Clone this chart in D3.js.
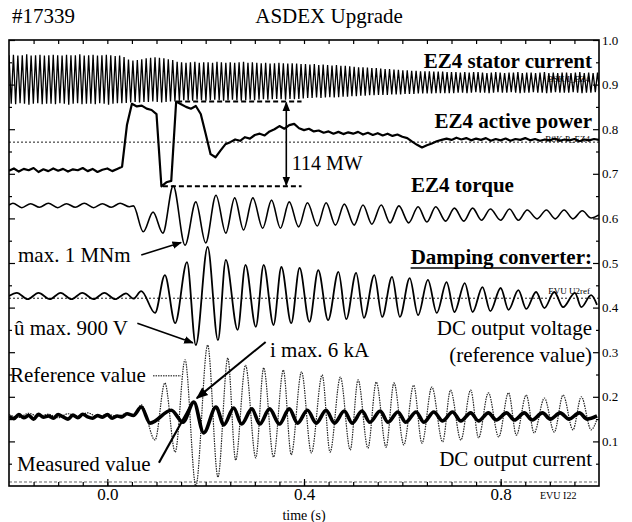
<!DOCTYPE html>
<html><head><meta charset="utf-8">
<script src="https://cdn.jsdelivr.net/npm/d3@7"></script>
<style>
body{margin:0;background:#fff}
svg{display:block}
svg text{font-family:"Liberation Serif","Tinos","Times New Roman",serif;fill:#000}
</style></head><body>
<svg id="chart" width="632" height="522"></svg>
<script>
// ---- shot / axis metadata ----
const shotLabel = "#17339";
const machineLabel = "ASDEX Upgrade";
const timeDomain = [-0.2, 1.0];
const timeTickLabels = [0.0, 0.4, 0.8];
const levelTicks = [0.1, 0.2, 0.3, 0.4, 0.5, 0.6, 0.7, 0.8, 0.9, 1.0];

// ---- EZ4 stator current: per-cycle upper / lower extremes (sampled every statorPeriod s) ----
const statorStart = -0.2;
const statorPeriod = 0.009;
const statorUpper = [
  0.966,0.967,0.965,0.966,0.968,0.965,0.966,0.967,0.965,0.966,0.967,0.966,0.965,0.967,0.966,0.966,0.968,0.965,0.966,0.967,0.965,0.966,0.967,0.966,0.964,0.965,0.962,
  0.956,0.954,0.955,0.957,
  0.959,0.960,0.961,0.960,0.959,0.957,0.955,
  0.951,0.950,0.949,0.950,0.951,0.949,0.950,0.950,0.949,0.951,0.950,0.949,0.950,0.949,0.950,0.951,0.949,0.950,
  0.949,0.948,0.949,0.947,0.948,0.949,0.948,0.947,0.948,0.947,0.946,
  0.946,0.945,0.946,0.944,0.945,0.944,0.943,0.944,0.942,0.942,
  0.941,0.940,0.939,0.939,0.938,0.937,0.937,0.936,0.935,0.935,0.934,0.933,
  0.932,0.932,0.931,0.931,0.930,0.930,0.930,0.929,0.929,0.929,0.928,0.928,
  0.928,0.927,0.928,0.927,0.928,0.928,0.927,0.926,0.927,0.928,0.927,0.926,0.927,0.927,0.928,0.926,0.927,0.927,0.926,0.927,0.928,0.926,0.927,0.926,0.927,0.927,0.926,0.927,0.928,0.926,0.927,0.926,0.927
];
const statorLower = [
  0.857,0.856,0.858,0.857,0.855,0.857,0.858,0.856,0.857,0.857,0.856,0.858,0.857,0.855,0.857,0.858,0.856,0.857,0.857,0.856,0.858,0.857,0.855,0.857,0.858,0.858,0.859,
  0.860,0.861,0.860,0.861,
  0.861,0.862,0.861,0.860,0.861,0.862,0.862,
  0.864,0.865,0.865,0.864,0.866,0.865,0.864,0.865,0.866,0.865,0.864,0.865,0.866,0.865,0.864,0.865,0.866,0.865,
  0.866,0.867,0.866,0.867,0.868,0.867,0.866,0.868,0.867,0.868,0.869,
  0.870,0.870,0.871,0.870,0.871,0.872,0.871,0.872,0.873,0.873,
  0.874,0.874,0.875,0.875,0.876,0.876,0.877,0.877,0.877,0.878,0.878,0.878,
  0.879,0.879,0.879,0.880,0.880,0.880,0.880,0.881,0.881,0.881,0.881,0.881,
  0.882,0.882,0.881,0.882,0.883,0.882,0.882,0.881,0.882,0.883,0.882,0.882,0.883,0.882,0.881,0.882,0.882,0.883,0.882,0.882,0.881,0.882,0.883,0.882,0.882,0.882,0.883,0.882,0.881,0.882,0.882,0.883,0.882
];

// ---- EZ4 active power, sampled every 0.01 s from -0.2 s ----
const powerStart = -0.2;
const powerStep = 0.01;
const powerValues = [
  0.707,0.712,0.705,0.711,0.708,0.713,0.704,0.710,0.706,0.712,
  0.707,0.711,0.705,0.710,0.708,0.713,0.706,0.711,0.704,0.709,
  0.712,0.706,0.711,0.716,0.810,0.857,0.851,0.853,0.846,0.843,
  0.834,0.672,0.681,0.684,0.862,0.856,0.850,0.846,0.852,0.834,
  0.790,0.744,0.737,0.752,0.766,0.771,0.777,0.774,0.782,0.779,
  0.787,0.790,0.786,0.795,0.800,0.807,0.801,0.809,0.812,0.802,
  0.798,0.801,0.795,0.797,0.792,0.795,0.790,0.794,0.789,0.793,
  0.790,0.794,0.788,0.792,0.787,0.791,0.786,0.790,0.785,0.788,
  0.783,0.780,0.772,0.765,0.759,0.764,0.768,0.773,0.776,0.779,
  0.776,0.781,0.777,0.780,0.775,0.779,0.776,0.780,0.774,0.778,
  0.775,0.779,0.774,0.778,0.776,0.780,0.775,0.778,0.774,0.777,
  0.775,0.779,0.774,0.777,0.775,0.778,0.773,0.777,0.775,0.778,
  0.776
];

// ---- EZ4 torque: [time s, level] turning points ----
const torquePoints = [
  [-0.200,0.630],[-0.192,0.634],[-0.174,0.624],[-0.156,0.633],[-0.138,0.625],[-0.120,0.634],
  [-0.101,0.624],[-0.083,0.633],[-0.065,0.625],[-0.047,0.634],[-0.028,0.624],[-0.010,0.633],
  [0.008,0.625],[0.026,0.634],[0.045,0.626],[0.053,0.628],
  [0.073,0.570],[0.093,0.614],[0.113,0.567],[0.134,0.673],[0.158,0.540],
  [0.180,0.637],[0.200,0.545],[0.221,0.652],[0.241,0.567],[0.259,0.646],[0.277,0.574],
  [0.296,0.646],[0.316,0.578],[0.334,0.641],[0.352,0.578],[0.370,0.637],[0.389,0.581],
  [0.407,0.635],[0.427,0.583],[0.445,0.635],[0.464,0.585],[0.482,0.632],[0.502,0.585],
  [0.520,0.630],[0.538,0.587],[0.557,0.630],[0.575,0.590],[0.593,0.628],[0.613,0.590],
  [0.632,0.626],[0.650,0.592],[0.668,0.626],[0.688,0.594],[0.706,0.623],[0.725,0.594],
  [0.743,0.623],[0.761,0.596],[0.779,0.621],[0.800,0.596],[0.818,0.621],[0.836,0.596],
  [0.854,0.619],[0.874,0.599],[0.893,0.619],[0.911,0.599],[0.929,0.619],[0.947,0.599],
  [0.966,0.617],[0.984,0.601],[1.000,0.608]
];

// ---- damping converter DC output voltage (reference value) ----
const voltagePoints = [
  [-0.200,0.426],[-0.184,0.433],[-0.162,0.419],[-0.140,0.433],[-0.117,0.419],[-0.095,0.433],
  [-0.073,0.419],[-0.051,0.433],[-0.028,0.419],[-0.006,0.433],[0.016,0.419],[0.038,0.432],
  [0.053,0.420],[0.069,0.437],
  [0.097,0.388],[0.117,0.473],[0.138,0.365],[0.162,0.502],[0.180,0.316],[0.204,0.536],
  [0.225,0.327],[0.241,0.507],[0.265,0.350],[0.281,0.496],[0.302,0.357],[0.318,0.496],
  [0.338,0.361],[0.354,0.491],[0.374,0.365],[0.391,0.489],[0.411,0.368],[0.429,0.484],
  [0.449,0.372],[0.470,0.480],[0.486,0.374],[0.506,0.478],[0.522,0.377],[0.543,0.473],
  [0.559,0.379],[0.579,0.469],[0.595,0.379],[0.615,0.466],[0.632,0.383],[0.652,0.462],
  [0.670,0.388],[0.690,0.457],[0.706,0.390],[0.727,0.455],[0.743,0.390],[0.763,0.446],
  [0.779,0.392],[0.800,0.444],[0.816,0.395],[0.836,0.439],[0.852,0.397],[0.872,0.435],
  [0.889,0.399],[0.909,0.435],[0.927,0.401],[0.951,0.433],[0.964,0.401],[0.984,0.428],
  [0.996,0.406]
];

// ---- DC output current: reference value (dotted) ----
const currentRefPoints = [
  [-0.200,0.160],[-0.180,0.154],[-0.160,0.163],[-0.140,0.156],[-0.120,0.161],[-0.100,0.153],
  [-0.080,0.162],[-0.060,0.157],[-0.040,0.164],[-0.020,0.155],[0.000,0.161],[0.020,0.156],
  [0.040,0.163],[0.055,0.158],[0.069,0.182],
  [0.097,0.103],[0.117,0.231],[0.138,0.076],[0.158,0.283],[0.180,0.000],[0.204,0.316],
  [0.225,0.020],[0.245,0.287],[0.261,0.058],[0.281,0.271],[0.302,0.063],[0.318,0.265],
  [0.338,0.065],[0.358,0.260],[0.374,0.070],[0.395,0.256],[0.415,0.074],[0.437,0.249],
  [0.453,0.076],[0.474,0.244],[0.494,0.081],[0.510,0.238],[0.530,0.085],[0.547,0.233],
  [0.567,0.087],[0.583,0.231],[0.603,0.092],[0.623,0.226],[0.640,0.096],[0.660,0.222],
  [0.682,0.099],[0.698,0.215],[0.719,0.103],[0.739,0.215],[0.755,0.108],[0.775,0.209],
  [0.796,0.110],[0.816,0.209],[0.832,0.114],[0.852,0.204],[0.868,0.119],[0.889,0.197],
  [0.909,0.121],[0.927,0.204],[0.947,0.126],[0.964,0.200],[0.984,0.126],[0.996,0.150]
];

// ---- DC output current: measured value (thick) ----
const currentMeasPoints = [
  [-0.200,0.156],[-0.190,0.151],[-0.180,0.160],[-0.170,0.153],[-0.160,0.158],[-0.150,0.150],
  [-0.140,0.161],[-0.130,0.154],[-0.120,0.157],[-0.110,0.152],[-0.100,0.160],[-0.090,0.155],
  [-0.080,0.150],[-0.070,0.159],[-0.060,0.153],[-0.050,0.161],[-0.040,0.155],[-0.030,0.152],
  [-0.020,0.158],[-0.010,0.154],[0.000,0.160],[0.010,0.152],[0.020,0.157],[0.030,0.155],
  [0.040,0.162],[0.053,0.158],[0.069,0.177],
  [0.087,0.141],[0.130,0.170],[0.154,0.143],[0.176,0.188],[0.196,0.119],[0.221,0.177],
  [0.237,0.137],[0.257,0.175],[0.273,0.139],[0.294,0.173],[0.310,0.139],[0.330,0.173],
  [0.350,0.139],[0.370,0.173],[0.387,0.141],[0.407,0.170],[0.425,0.141],[0.445,0.170],
  [0.462,0.141],[0.482,0.168],[0.498,0.141],[0.518,0.168],[0.534,0.143],[0.555,0.168],
  [0.571,0.143],[0.591,0.166],[0.607,0.143],[0.628,0.166],[0.644,0.143],[0.664,0.166],
  [0.682,0.146],[0.702,0.166],[0.719,0.146],[0.739,0.164],[0.755,0.146],[0.775,0.164],
  [0.791,0.148],[0.812,0.164],[0.828,0.148],[0.848,0.164],[0.864,0.148],[0.885,0.164],
  [0.901,0.150],[0.921,0.164],[0.939,0.150],[0.960,0.164],[0.976,0.150],[0.996,0.157]
];

// ---- dotted reference levels: active-power level, voltage zero, current zero ----
const referenceLevels = [0.771, 0.421, 0.009];

// ---- annotation anchors [time s, level] ----
const torqueArrow = [[0.069,0.518],[0.150,0.546]];
const voltageArrow = [[0.061,0.365],[0.174,0.321]];
const currentArrow = [[0.322,0.323],[0.182,0.197]];
const measuredLead = [[0.105,0.052],[0.168,0.177]];
const referenceLead = [[0.093,0.247],[0.150,0.247]];
const powerSpan = {from:[0.142,0.113], to:0.395, arrowAt:0.364};

// ================= drawing =================
const W = 632, H = 522;
const margin = {top:40, right:33, bottom:36, left:9};
const SERIF = '"Liberation Serif","Tinos","Times New Roman",serif';
const svg = d3.select("#chart");

const x = d3.scaleLinear().domain(timeDomain).range([margin.left, W - margin.right]);
const y = d3.scaleLinear().domain([0, 1]).range([H - margin.bottom, margin.top]);

svg.append("defs").call(defs => {
  defs.append("clipPath").attr("id","plotClip")
    .append("rect").attr("x", x(timeDomain[0])).attr("y", y(1))
    .attr("width", x(timeDomain[1]) - x(timeDomain[0])).attr("height", y(0) - y(1));
  defs.append("marker").attr("id","arrowHead")
    .attr("viewBox","0 0 10 10").attr("refX",9).attr("refY",5)
    .attr("markerWidth",6).attr("markerHeight",6).attr("orient","auto-start-reverse")
    .append("path").attr("d","M0,1 L10,5 L0,9 z").attr("fill","#000");
});

const txt = (sel) => sel.attr("font-family", SERIF).style("font-family", SERIF);

// header
txt(svg.append("text").attr("x", 12).attr("y", 23).style("font-size","21px").text(shotLabel));
txt(svg.append("text").attr("x", 329).attr("y", 23).attr("text-anchor","middle").style("font-size","21px").text(machineLabel));

// traces
const plot = svg.append("g").attr("clip-path","url(#plotClip)");

// dotted reference levels
plot.selectAll("line.level").data(referenceLevels).join("line")
  .attr("class","level")
  .attr("x1", x(timeDomain[0])).attr("x2", x(timeDomain[1]))
  .attr("y1", d => y(d)).attr("y2", d => y(d))
  .attr("stroke", (d,i) => i === 2 ? "#555" : "#000")
  .attr("stroke-width", 0.9)
  .attr("stroke-dasharray", (d,i) => i === 2 ? "3,2" : "2,2");

// stator current zig-zag
const statorPts = [];
statorUpper.forEach((u, k) => {
  statorPts.push([statorStart + k * statorPeriod, u]);
  statorPts.push([statorStart + (k + 0.5) * statorPeriod, statorLower[k]]);
});
const lineLin = d3.line().x(d => x(d[0])).y(d => y(d[1]));
plot.append("path").datum(statorPts).attr("d", lineLin)
  .attr("fill","none").attr("stroke","#000").attr("stroke-width",1.3);

// active power
const powerPts = powerValues.map((v, i) => [powerStart + i * powerStep, v]);
plot.append("path").datum(powerPts).attr("d", lineLin)
  .attr("fill","none").attr("stroke","#000").attr("stroke-width",2.2).attr("stroke-linejoin","round");

const lineSmooth = d3.line().curve(d3.curveMonotoneX).x(d => x(d[0])).y(d => y(d[1]));

plot.append("path").datum(torquePoints).attr("d", lineSmooth)
  .attr("fill","none").attr("stroke","#000").attr("stroke-width",1.6);

plot.append("path").datum(voltagePoints).attr("d", lineSmooth)
  .attr("fill","none").attr("stroke","#000").attr("stroke-width",1.8);

plot.append("path").datum(currentRefPoints).attr("d", lineSmooth)
  .attr("fill","none").attr("stroke","#222").attr("stroke-width",1.2).attr("stroke-dasharray","1.5,1");

plot.append("path").datum(currentMeasPoints).attr("d", lineSmooth)
  .attr("fill","none").attr("stroke","#000").attr("stroke-width",3.6);

// axes (ticks inward)
const fmt = d3.format(".1f");
const gR = svg.append("g").attr("transform",`translate(${x(timeDomain[1])},0)`)
  .call(d3.axisRight(y).tickValues(levelTicks).tickSize(-6).tickPadding(3).tickFormat(fmt));
const gRm = svg.append("g").attr("transform",`translate(${x(timeDomain[1])},0)`)
  .call(d3.axisRight(y).tickValues(d3.range(0.05, 1, 0.1)).tickSize(-3).tickFormat(""));
const gL = svg.append("g").attr("transform",`translate(${x(timeDomain[0])},0)`)
  .call(d3.axisLeft(y).tickValues(levelTicks).tickSize(-6).tickFormat(""));
const gLm = svg.append("g").attr("transform",`translate(${x(timeDomain[0])},0)`)
  .call(d3.axisLeft(y).tickValues(d3.range(0.05, 1, 0.1)).tickSize(-3).tickFormat(""));
const minorT = d3.range(-0.15, 0.99, 0.05);
const gB = svg.append("g").attr("transform",`translate(0,${y(0)})`)
  .call(d3.axisBottom(x).tickValues(minorT).tickSize(-4).tickFormat(""));
const gBl = svg.append("g").attr("transform",`translate(0,${y(0)})`)
  .call(d3.axisBottom(x).tickValues(timeTickLabels).tickSize(-7).tickPadding(2).tickFormat(fmt));
const gT = svg.append("g").attr("transform",`translate(0,${y(1)})`)
  .call(d3.axisTop(x).tickValues(minorT).tickSize(-4).tickFormat(""));
[gR,gRm,gL,gLm,gB,gBl,gT].forEach(g => {
  g.attr("font-family", SERIF);
  g.select(".domain").remove();
  g.selectAll("line").attr("stroke","#000").attr("stroke-width",1.2);
});
txt(gR.selectAll("text")).style("font-size","13px").attr("fill","#000");
txt(gBl.selectAll("text")).style("font-size","17px").attr("fill","#000");

// frame
svg.append("rect").attr("x", x(timeDomain[0])).attr("y", y(1))
  .attr("width", x(timeDomain[1]) - x(timeDomain[0])).attr("height", y(0) - y(1))
  .attr("fill","none").attr("stroke","#000").attr("stroke-width",1.6);

txt(svg.append("text").attr("x", x(0.4)).attr("y", 520).attr("text-anchor","middle")
  .style("font-size","14px").text("time  (s)"));

// channel labels
const lab = (tx, ty, s, opts = {}) => txt(svg.append("text").attr("x", tx).attr("y", ty)
  .attr("text-anchor", opts.anchor || "start")
  .style("font-size", (opts.size || 21) + "px")
  .style("font-weight", opts.bold ? "bold" : "normal")
  .attr("fill", opts.color || "#000")
  .text(s));

lab(592, 68, "EZ4 stator current", {anchor:"end", bold:true});
lab(590, 82, "BSK I_EZ4", {anchor:"end", size:9, color:"#444"});
lab(592, 128, "EZ4 active power", {anchor:"end", bold:true});
lab(590, 142, "BSK P_EZ4", {anchor:"end", size:9, color:"#444"});
lab(411, 192, "EZ4 torque", {bold:true});
const dc = lab(592, 264, "Damping converter:", {anchor:"end", bold:true});
const bb = dc.node().getBBox();
svg.append("line").attr("x1", bb.x).attr("x2", bb.x + bb.width).attr("y1", 268).attr("y2", 268)
  .attr("stroke","#000").attr("stroke-width",1.5);
lab(590, 294, "EVU U2ref", {anchor:"end", size:9, color:"#444"});
lab(592, 335, "DC output voltage", {anchor:"end"});
lab(592, 362, "(reference value)", {anchor:"end"});
lab(592, 466, "DC output current", {anchor:"end"});
lab(540, 499, "EVU I22", {size:10});

lab(18, 262, "max. 1 MNm");
lab(14, 335, "\u00fb  max. 900 V");
lab(270, 357, "i max. 6 kA");
lab(10, 382, "Reference value");
lab(17, 471, "Measured value");

// 114 MW span, taken from the power extremes
const pMax = d3.max(powerValues), pMin = d3.min(powerValues);
txt(svg.append("text").attr("x", x(0.375)).attr("y", y(0.708)).style("font-size","20px").text("114 MW"));
[[powerSpan.from[0], pMax], [powerSpan.from[1], pMin]].forEach(([t0, v]) => {
  svg.append("line").attr("x1", x(t0)).attr("x2", x(powerSpan.to))
    .attr("y1", y(v)).attr("y2", y(v))
    .attr("stroke","#000").attr("stroke-width",2).attr("stroke-dasharray","5,3");
});
svg.append("line").attr("x1", x(powerSpan.arrowAt)).attr("x2", x(powerSpan.arrowAt))
  .attr("y1", y(pMax) + 1).attr("y2", y(pMin) - 1)
  .attr("stroke","#000").attr("stroke-width",1.6)
  .attr("marker-start","url(#arrowHead)").attr("marker-end","url(#arrowHead)");

// pointer arrows
const seg = (pts, opts = {}) => svg.append("line")
  .attr("x1", x(pts[0][0])).attr("y1", y(pts[0][1]))
  .attr("x2", x(pts[1][0])).attr("y2", y(pts[1][1]))
  .attr("stroke","#000").attr("stroke-width", opts.w || 1.6)
  .attr("stroke-dasharray", opts.dash || null)
  .attr("marker-end", opts.head ? "url(#arrowHead)" : null);
seg(torqueArrow, {head:true});
seg(voltageArrow, {head:true});
seg(currentArrow, {head:true, w:2});
seg(measuredLead, {w:2.2});
seg(referenceLead, {w:1, dash:"1.5,1"});
</script>
</body></html>
